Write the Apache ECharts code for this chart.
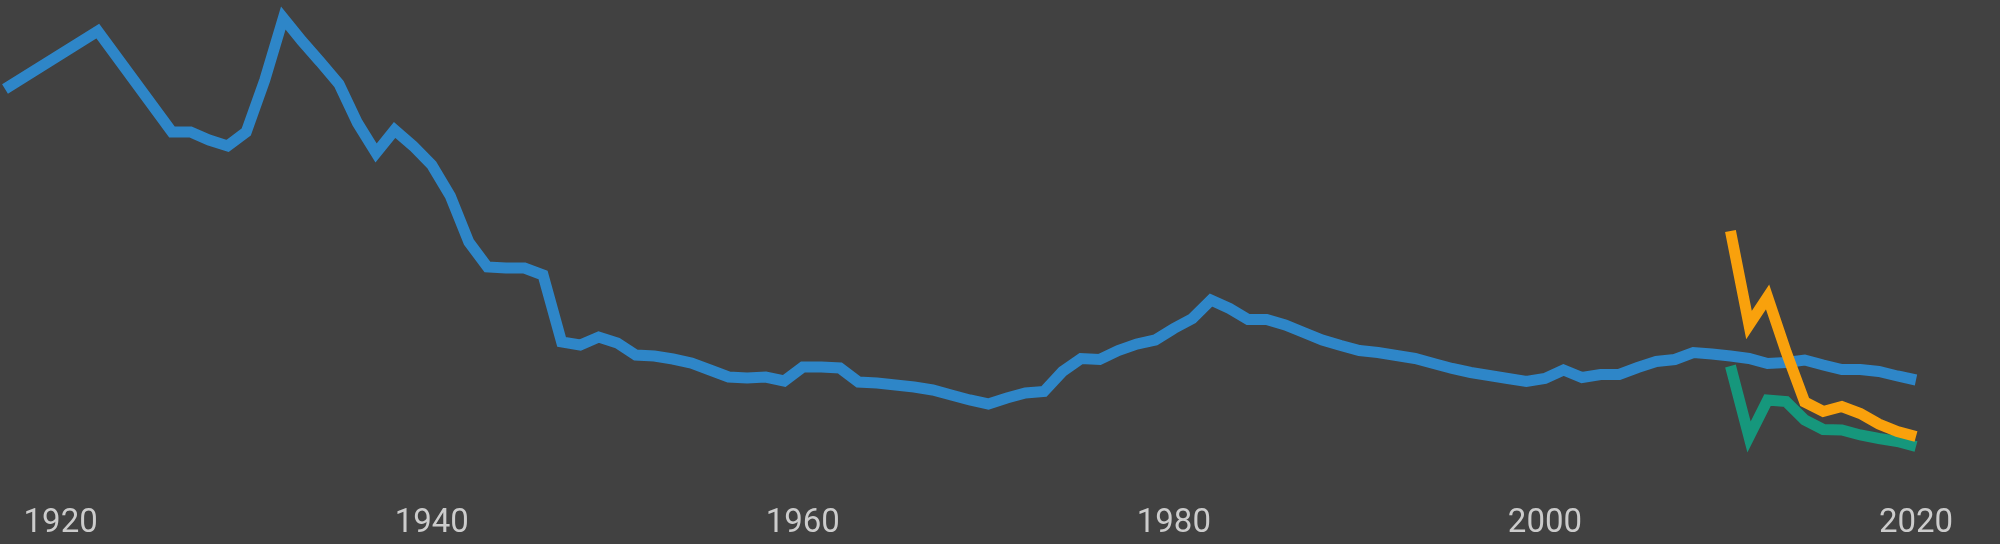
<!DOCTYPE html>
<html>
<head>
<meta charset="utf-8">
<script src="https://cdn.jsdelivr.net/npm/echarts@6/dist/echarts.min.js"></script>
<style>
  html, body { margin: 0; padding: 0; background: #414141; }
  #chart { width: 2000px; height: 544px; }
</style>
</head>
<body>
<div id="chart"></div>
<script>
// Years for the long (blue) series
const blueYears = [1917, 1922, 1926, 1927, 1928, 1929, 1930, 1931, 1932, 1933, 1934, 1935, 1936, 1937, 1938, 1939,
  1940, 1941, 1942, 1943, 1944, 1945, 1946, 1947, 1948, 1949, 1950, 1951, 1952, 1953, 1954, 1955, 1956, 1957, 1958, 1959,
  1960, 1961, 1962, 1963, 1964, 1965, 1966, 1967, 1968, 1969, 1970, 1971, 1972, 1973, 1974, 1975, 1976, 1977, 1978, 1979,
  1980, 1981, 1982, 1983, 1984, 1985, 1986, 1987, 1988, 1989, 1990, 1991, 1992, 1993, 1994, 1995, 1996, 1997, 1998, 1999,
  2000, 2001, 2002, 2003, 2004, 2005, 2006, 2007, 2008, 2009, 2010, 2011, 2012, 2013, 2014, 2015, 2016, 2017, 2018, 2019, 2020];
const blueValues = [82.2, 93.8, 73.6, 73.6, 72.0, 70.8, 73.6, 84.0, 96.4, 91.8, 87.6, 83.2, 75.4, 69.4, 74.0, 70.8,
  67.0, 60.8, 51.6, 46.6, 46.4, 46.4, 45.0, 31.6, 31.0, 32.6, 31.4, 29.0, 28.8, 28.2, 27.4, 26.0, 24.6, 24.4, 24.6, 23.8,
  26.6, 26.6, 26.4, 23.6, 23.4, 23.0, 22.6, 22.0, 21.0, 20.0, 19.2, 20.4, 21.4, 21.7, 25.7, 28.3, 28.1, 29.9, 31.2, 32.0,
  34.3, 36.3, 40.0, 38.3, 36.1, 36.1, 35.0, 33.5, 32.0, 30.9, 29.9, 29.5, 28.9, 28.3, 27.3, 26.3, 25.5, 24.9, 24.3, 23.7,
  24.3, 26.0, 24.5, 25.1, 25.1, 26.5, 27.7, 28.1, 29.5, 29.2, 28.8, 28.3, 27.3, 27.5, 28.0, 27.0, 26.1, 26.1, 25.7, 24.8, 24.0];

// Short series (2010-2020)
const recentYears = [2010, 2011, 2012, 2013, 2014, 2015, 2016, 2017, 2018, 2019, 2020];
const orangeValues = [53.8, 35.0, 40.6, 29.6, 19.6, 17.7, 18.7, 17.3, 15.2, 13.7, 12.7];
const greenValues = [26.8, 12.6, 20.0, 19.7, 16.0, 14.1, 14.0, 13.0, 12.3, 11.7, 10.7];

// Tick labels shown on the x axis
const tickLabels = [1920, 1940, 1960, 1980, 2000, 2020];

const pair = (xs, ys) => xs.map((x, i) => [x, ys[i]]);

const chart = echarts.init(document.getElementById('chart'), null, { renderer: 'canvas' });
const lineStyle = (color) => ({ color: color, width: 11, join: 'miter', cap: 'butt', miterLimit: 4 });
chart.setOption({
  backgroundColor: '#414141',
  animation: false,
  grid: { left: 5, right: 84, top: 0, bottom: 44, containLabel: false },
  xAxis: {
    type: 'value',
    min: 1917,
    max: 2020,
    interval: 1,
    axisLine: { show: false },
    axisTick: { show: false },
    splitLine: { show: false },
    axisLabel: {
      color: '#cccccc',
      fontFamily: 'Roboto',
      fontSize: 33,
      margin: 7,
      formatter: v => (tickLabels.indexOf(v) >= 0 ? String(v) : '')
    }
  },
  yAxis: {
    type: 'value',
    min: 0,
    max: 100,
    show: false,
    splitLine: { show: false }
  },
  series: [
    {
      name: 'blue', type: 'line', data: pair(blueYears, blueValues),
      showSymbol: false, symbol: 'none',
      lineStyle: lineStyle('#2e86c8')
    },
    {
      name: 'green', type: 'line', data: pair(recentYears, greenValues),
      showSymbol: false, symbol: 'none',
      lineStyle: lineStyle('#16977c')
    },
    {
      name: 'orange', type: 'line', data: pair(recentYears, orangeValues),
      showSymbol: false, symbol: 'none',
      lineStyle: lineStyle('#f9a10c')
    }
  ]
});
</script>
</body>
</html>
